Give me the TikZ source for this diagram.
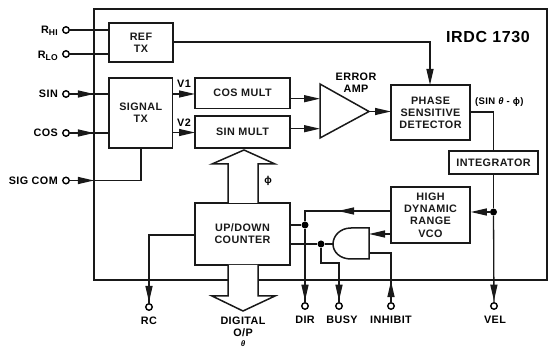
\documentclass[tikz,border=0pt]{standalone}
\usepackage{fontspec}
\setmainfont[LetterSpace=4]{Liberation Sans}
\usetikzlibrary{arrows.meta,decorations.markings,calc}
\newcommand{\lbl}{\fontsize{10.8}{12.2}\selectfont\bfseries}
\tikzset{
  x=1pt,y=-1pt,
  wire/.style={line width=1.3pt,black!90},
  tip/.style={-{Triangle[length=16pt,width=7pt]}},
  tipat/.style={postaction={decorate},decoration={markings,mark=at position #1 with {\arrow{Triangle[length=16pt,width=7pt]}}}},
  blockbox/.style={draw,line width=1.5pt,black!90,inner sep=0pt,align=center,font=\lbl},
  term/.style={circle,draw,line width=1.4pt,fill=white,minimum size=6.5pt,inner sep=0pt},
  dotj/.style={circle,fill=black,minimum size=7pt,inner sep=0pt},
  lab/.style={inner sep=0pt,align=center,font=\lbl},
}
\newcommand{\blk}[6]{\node[blockbox,minimum width=#4-#2,minimum height=#5-#3] (#1) at ({(#2+#4)/2},{(#3+#5)/2}) {#6};}
\begin{document}
\begin{tikzpicture}
\useasboundingbox (0,0) rectangle (552,347);
% outer package outline, open where the output bus leaves
\draw[line width=2.8pt,black!90] (228,280) -- (94,280) -- (94,9) -- (547,9) -- (547,280) -- (258,280);
% blocks
\blk{ref}{109}{23}{173}{62}{REF\\TX}
\blk{sig}{109}{78}{172.5}{148}{SIGNAL\\TX}
\blk{cosm}{195}{78}{290}{108.5}{COS MULT}
\blk{sinm}{195}{116}{290}{148}{SIN MULT}
\blk{psd}{391}{85}{470}{140}{PHASE\\SENSITIVE\\DETECTOR}
\blk{integ}{449}{151}{538}{174}{INTEGRATOR}
\blk{vco}{391}{187}{470}{243}{HIGH\\DYNAMIC\\RANGE\\VCO}
\blk{cnt}{195}{203}{290}{265}{UP/DOWN\\COUNTER}
% error amplifier
\coordinate (amptip) at (369,111.5);
\coordinate (ampin1) at (320,98.7);
\coordinate (ampin2) at (320,128.7);
\coordinate (ampout) at (391,111.5);
\draw[line width=1.5pt,black!90,line join=miter] (320,84) -- (amptip) -- (320,138) -- cycle;
% AND gate
\coordinate (andin) at (333,244);
\coordinate (andtop) at (369,234);
\coordinate (andbot) at (369,253);
\draw[line width=1.5pt,black!90] (369,228) -- (351,228) .. controls (340,228) and (333,236) .. (andin) .. controls (333,252) and (340,259) .. (351,259) -- (369,259) -- cycle;
% terminals
\node[term] (rhi) at (66,30) {};
\node[term] (rlo) at (66,54) {};
\node[term] (tsin) at (66,94) {};
\node[term] (tcos) at (66,133) {};
\node[term] (tcom) at (66,180.5) {};
\node[term] (trc) at (149,307) {};
\node[term] (tdir) at (305,306) {};
\node[term] (tbusy) at (339,306) {};
\node[term] (tinh) at (391,306) {};
\node[term] (tvel) at (494,306) {};
% junctions
\node[dotj] (jvel) at (493.5,212) {};
\node[dotj] (jdir) at (305,225) {};
\node[dotj] (jbusy) at (321,244) {};
% connectors
\draw[wire] (rhi) -- (rhi -| ref.west);
\draw[wire] (rlo) -- (rlo -| ref.west);
\draw[wire,tipat=24pt] (tsin) -- (tsin -| sig.west);
\draw[wire,tipat=24pt] (tcos) -- (tcos -| sig.west);
\draw[wire,tipat=24pt] (tcom) -- (141,180.5) -- (141,148);
\draw[wire,tip] (172.5,94) -- (195,94);
\draw[wire,tip] (172.5,132.5) -- (195,132.5);
\draw[wire,tip] (cosm.east |- ampin1) -- (ampin1);
\draw[wire,tip] (sinm.east |- ampin2) -- (ampin2);
\draw[wire,tip] (amptip) -- (ampout);
\draw[wire,tip] (173,42) -- (430,42) -- (430,85);
\draw[wire] (470,112) -- (493.5,112) -- (493.5,151);
\draw[wire] (493.5,174) -- (jvel);
\draw[wire,tip] (jvel) -- (vco.east |- jvel);
\draw[wire,tipat={85pt}] (jvel) -- (tvel);
\draw[wire,tipat=53pt] (391,211) -- (305,211) -- (jdir);
\draw[wire,tipat={72pt}] (jdir) -- (tdir);
\draw[wire] (290,225) -- (jdir);
\draw[wire] (290,244) -- (jbusy) -- (andin);
\draw[wire,tipat={71pt}] (jbusy) -- (321,263) -- (339,263) -- (tbusy);
\draw[wire,tip] (391,234) -- (369,234);
\draw[wire,tipat=21pt] (tinh) -- (391,253) -- (andbot);
\draw[wire,tipat=113pt] (195,235) -- (149,235) -- (trc);
% data buses
\draw[line width=1.5pt,black!90,line join=miter,fill=white] (228,203) -- (228,164) -- (212,164) -- (244,150) -- (275,164) -- (258,164) -- (258,203);
\draw[line width=1.5pt,black!90,line join=miter,fill=white] (228,265) -- (228,296) -- (212,296) -- (243,311) -- (275,296) -- (258,296) -- (258,265);
% labels
\node[lab,anchor=east] (lrhi) at (58,31) {R\raisebox{-1.5pt}{\fontsize{8.5}{9}\selectfont HI}};
\node[lab,anchor=east] (lrlo) at (58,56) {R\raisebox{-1.5pt}{\fontsize{8.5}{9}\selectfont LO}};
\node[lab,anchor=east] (lsin) at (58,94) {SIN};
\node[lab,anchor=east] (lcos) at (58,133) {COS};
\node[lab,anchor=east] (lcom) at (58,181) {SIG COM};
\node[lab] (lv1) at (184,84) {V1};
\node[lab] (lv2) at (184,123) {V2};
\node[lab] (lamp) at (356,83) {ERROR\\AMP};
\node[lab,anchor=west] (ldiff) at (475,102) {\fontsize{9.5}{11}\selectfont (SIN {\itshape θ} - ϕ)};
\node[lab] (lphi) at (268,181) {\fontsize{10}{11}\selectfont ϕ};
\node[lab,anchor=east,font=\fontsize{16}{18}\selectfont\bfseries] (ltitle) at (530,37) {IRDC 1730};
\node[lab] (lrc) at (149,321) {RC};
\node[lab,anchor=north] (ldig) at (243,317) {DIGITAL\\O/P};
\node[lab] (lth) at (243,344) {\fontsize{8}{9}\selectfont\itshape θ};
\node[lab] (ldir) at (305,320) {DIR};
\node[lab] (lbusy) at (342,320) {BUSY};
\node[lab] (linh) at (391,320) {INHIBIT};
\node[lab] (lvel) at (495,320) {VEL};
\end{tikzpicture}
\end{document}
